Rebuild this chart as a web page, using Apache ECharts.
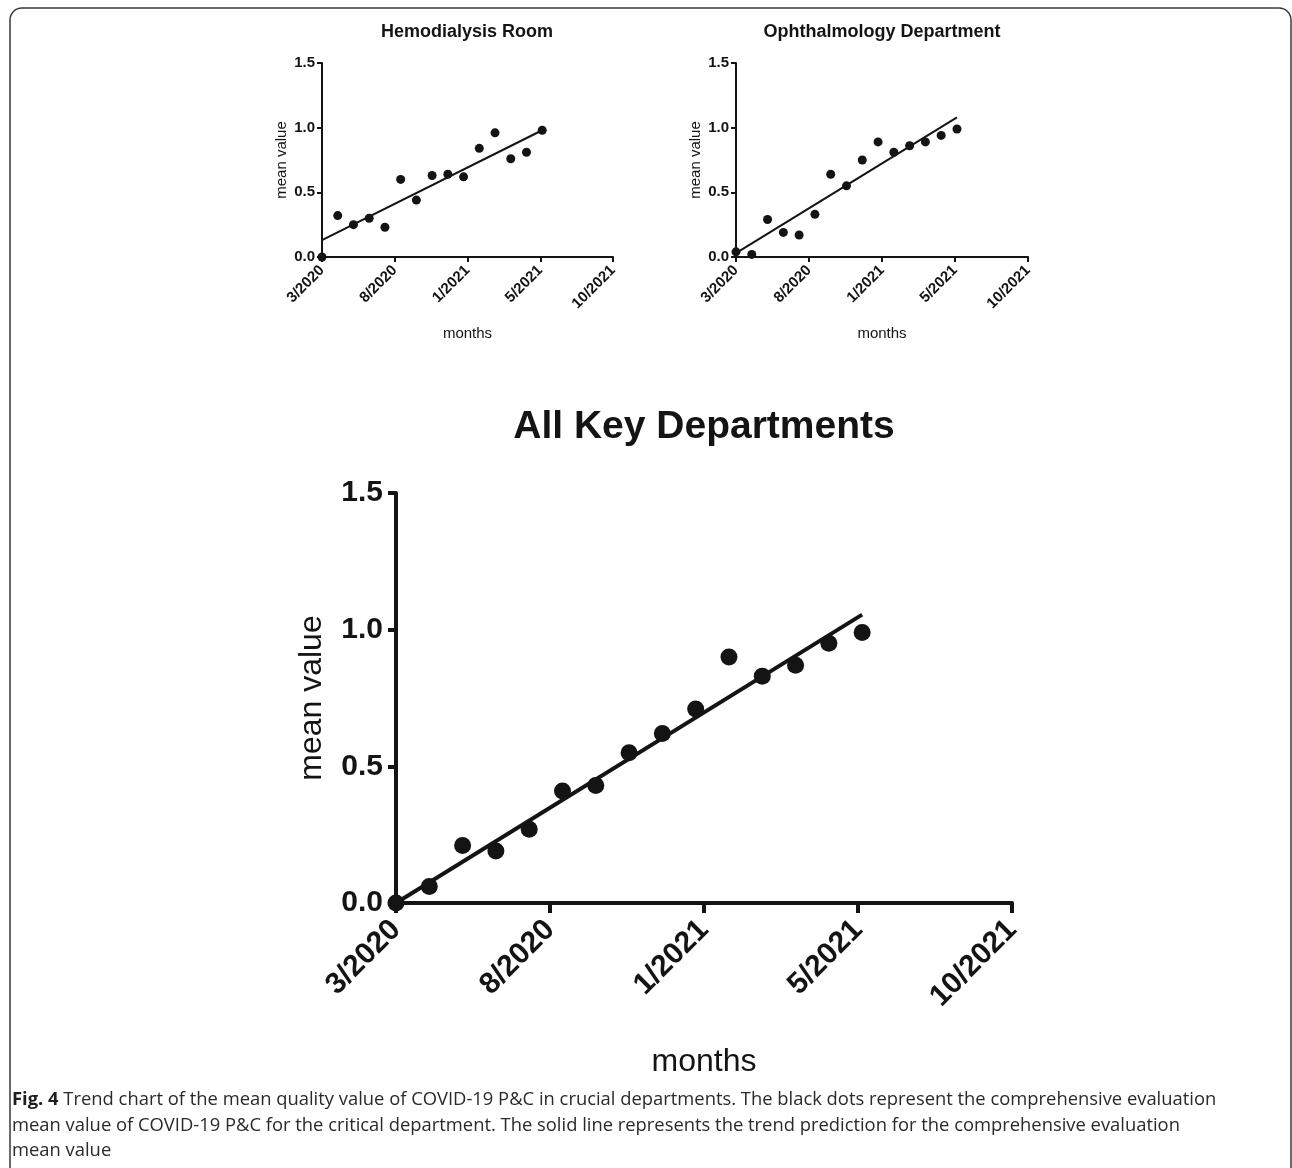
<!DOCTYPE html>
<html>
<head>
<meta charset="utf-8">
<script src="https://cdn.jsdelivr.net/npm/echarts@6/dist/echarts.min.js"></script>
<style>
html,body{margin:0;padding:0;background:#fff;}
#chart{width:1292px;height:1168px;}
</style>
</head>
<body>
<div id="chart"></div>
<script>
// ---- data ----
const tickLabels = ['3/2020', '8/2020', '1/2021', '5/2021', '10/2021'];
const monthIdx = [0, 1, 2, 3, 4, 5, 6, 7, 8, 9, 10, 11, 12, 13, 14];
const hemoValues = [0.00, 0.32, 0.25, 0.30, 0.23, 0.60, 0.44, 0.63, 0.64, 0.62, 0.84, 0.96, 0.76, 0.81, 0.98];
const ophValues  = [0.04, 0.02, 0.29, 0.19, 0.17, 0.33, 0.64, 0.55, 0.75, 0.89, 0.81, 0.86, 0.89, 0.94, 0.99];
const allValues  = [0.00, 0.06, 0.21, 0.19, 0.27, 0.41, 0.43, 0.55, 0.62, 0.71, 0.90, 0.83, 0.87, 0.95, 0.99];
const trendX     = [0, 14];
const hemoTrend  = [0.13, 0.98];
const ophTrend   = [0.03, 1.08];
const allTrend   = [0.00, 1.055];
const titles = ['Hemodialysis Room', 'Ophthalmology Department', 'All Key Departments'];
const captionLines = [
  ['Fig. 4', ' Trend chart of the mean quality value of COVID-19 P&C in crucial departments. The black dots represent the comprehensive evaluation'],
  ['', 'mean value of COVID-19 P&C for the critical department. The solid line represents the trend prediction for the comprehensive evaluation'],
  ['', 'mean value']
];

const INK = '#141414';
const FONT = '"Liberation Sans", Arial, sans-serif';
const X_MAX = 18.5, X_INT = 4.625;

function pairs(xs, ys) { return xs.map((x, i) => [x, ys[i]]); }

function xAxisCfg(gi, big) {
  return {
    type: 'value', gridIndex: gi, min: 0, max: X_MAX, interval: X_INT,
    splitLine: {show: false},
    axisLine: {show: true, onZero: false, lineStyle: {color: INK, width: big ? 4 : 2}},
    axisTick: {show: true, length: big ? 10 : 5, lineStyle: {color: INK, width: big ? 4 : 2}},
    axisLabel: {
      rotate: 45, margin: big ? 22 : 11, color: INK, fontFamily: FONT, fontWeight: 'bold',
      fontSize: big ? 30 : 15,
      formatter: v => tickLabels[Math.round(v / X_INT)]
    },
    name: 'months', nameLocation: 'middle', nameGap: big ? 143 : 69,
    nameTextStyle: {color: INK, fontFamily: FONT, fontSize: big ? 32 : 15}
  };
}
function yAxisCfg(gi, big) {
  return {
    type: 'value', gridIndex: gi, min: 0, max: 1.5, interval: 0.5,
    splitLine: {show: false},
    axisLine: {show: true, lineStyle: {color: INK, width: big ? 4 : 2}},
    axisTick: {show: true, length: big ? 8 : 5, lineStyle: {color: INK, width: big ? 4 : 2}},
    axisLabel: {
      margin: big ? 13 : 7, color: INK, fontFamily: FONT, fontWeight: 'bold',
      fontSize: big ? 30 : 15, formatter: v => v.toFixed(1)
    },
    name: 'mean value', nameLocation: 'middle', nameGap: big ? 68 : 33,
    nameTextStyle: {color: INK, fontFamily: FONT, fontSize: big ? 32 : 15}
  };
}
function dots(gi, vals, big) {
  return {
    type: 'scatter', xAxisIndex: gi, yAxisIndex: gi, data: pairs(monthIdx, vals),
    symbol: 'circle', symbolSize: big ? 17 : 9, clip: false, z: 3,
    itemStyle: {color: INK, opacity: 1}
  };
}
function trend(gi, vals, big) {
  return {
    type: 'line', xAxisIndex: gi, yAxisIndex: gi, data: pairs(trendX, vals),
    symbol: 'none', clip: false, z: 2,
    lineStyle: {color: INK, width: big ? 4 : 2}
  };
}

// caption font size fitted to the reference line width
const capCanvas = document.createElement('canvas').getContext('2d');
function lineWidthAt(size, parts) {
  capCanvas.font = 'bold ' + size + 'px "Open Sans"';
  let w = capCanvas.measureText(parts[0]).width;
  capCanvas.font = size + 'px "Open Sans"';
  return w + capCanvas.measureText(parts[1]).width;
}
const capSize = 18 * 1205 / lineWidthAt(18, captionLines[0]);

const chart = echarts.init(document.getElementById('chart'), null, {renderer: 'canvas'});
const titlePos = [[467, 32, 18], [882, 32, 18], [704, 427, 39]];
const graphics = [
  {type: 'rect', shape: {x: 10, y: 8, width: 1281, height: 1200, r: 12},
   style: {fill: 'none', stroke: '#3a3a3a', lineWidth: 1.5}, silent: true}
];
titles.forEach((t, i) => graphics.push({
  type: 'text', x: titlePos[i][0], y: titlePos[i][1],
  style: {text: t, fill: INK, font: 'bold ' + titlePos[i][2] + 'px ' + FONT, textAlign: 'center', textVerticalAlign: 'middle'}
}));
const capY = [1100, 1126, 1151];
captionLines.forEach((parts, i) => graphics.push({
  type: 'text', x: 12, y: capY[i],
  style: {
    text: (parts[0] ? '{b|' + parts[0] + '}' : '') + '{n|' + parts[1] + '}',
    rich: {
      b: {fontFamily: 'Open Sans', fontWeight: 'bold', fontSize: capSize, fill: '#1e1e1e'},
      n: {fontFamily: 'Open Sans', fontSize: capSize, fill: '#2a2a2a'}
    },
    textAlign: 'left', textVerticalAlign: 'middle'
  }
}));

chart.setOption({
  backgroundColor: '#ffffff',
  animation: false,
  grid: [
    {left: 322, width: 291, top: 63, height: 194},
    {left: 736, width: 292, top: 63, height: 194},
    {left: 396, width: 616, top: 493, height: 410}
  ],
  xAxis: [xAxisCfg(0, false), xAxisCfg(1, false), xAxisCfg(2, true)],
  yAxis: [yAxisCfg(0, false), yAxisCfg(1, false), yAxisCfg(2, true)],
  series: [
    trend(0, hemoTrend, false), dots(0, hemoValues, false),
    trend(1, ophTrend, false), dots(1, ophValues, false),
    trend(2, allTrend, true), dots(2, allValues, true)
  ],
  graphic: graphics
});
</script>
</body>
</html>
